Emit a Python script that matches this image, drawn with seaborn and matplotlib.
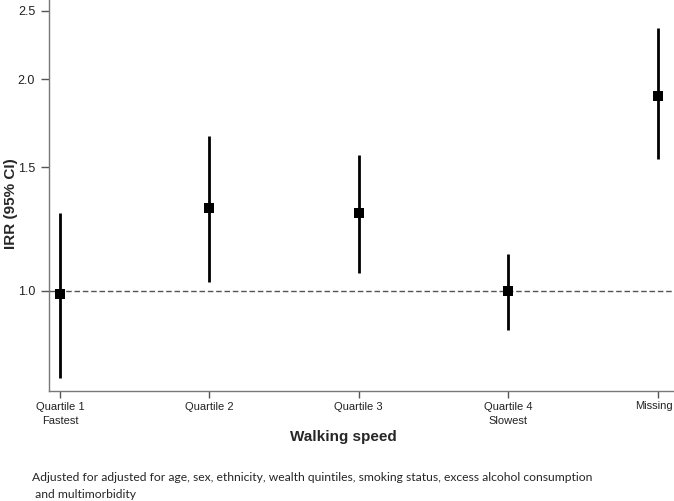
import numpy as np
import matplotlib
matplotlib.use("Agg")
import matplotlib.pyplot as plt
from matplotlib.ticker import FixedLocator, FixedFormatter, NullLocator
import seaborn as sns

# Datos (IRR e IC 95%)
categorias = ["Quartile 1\nFastest", "Quartile 2", "Quartile 3",
              "Quartile 4\nSlowest", "Missing"]
irr = [0.99, 1.31, 1.29, 1.00, 1.89]
ic_inf = [0.753, 1.03, 1.06, 0.88, 1.54]
ic_sup = [1.29, 1.66, 1.56, 1.13, 2.36]
yticks = [1.0, 1.5, 2.0, 2.5]
ytick_labels = ["1.0", "1.5", "2.0", "2.5"]

sns.set_style("ticks")
plt.rcParams["font.family"] = ["Liberation Sans", "DejaVu Sans"]

fig = plt.figure(figsize=(6.74, 5.01), dpi=100)
ax = fig.add_axes([49 / 674, 110 / 501, 1 - 49 / 674, 391 / 501])

x = np.arange(len(categorias))
ax.vlines(x, ic_inf, ic_sup, color="black", linewidth=2, zorder=3)
sns.scatterplot(x=x, y=irr, marker="s", s=60, color="black",
                edgecolor="black", linewidth=0, ax=ax, zorder=4)
ax.axhline(1.0, color="#555555", linestyle="--", linewidth=1, dashes=(4, 2),
           zorder=1)

ax.set_yscale("log")
ax.set_ylim(0.721, 2.59)
ax.set_xlim(-0.074, 4.11)
ax.yaxis.set_major_locator(FixedLocator(yticks))
ax.yaxis.set_major_formatter(FixedFormatter(ytick_labels))
ax.yaxis.set_minor_locator(NullLocator())
ax.set_xticks(x)
# la última etiqueta se escribe aparte, pegada al borde derecho
ax.set_xticklabels(categorias[:-1] + [""], fontsize=8, linespacing=1.5)
fig.text(673 / 674, 1 - 406 / 501, categorias[-1], fontsize=8,
         color="#222222", ha="right", va="center")

for s in ["top", "right"]:
    ax.spines[s].set_visible(False)
for s in ["left", "bottom"]:
    ax.spines[s].set_color("#777777")
    ax.spines[s].set_linewidth(1)
ax.tick_params(axis="y", colors="#555555", labelcolor="#222222",
               labelsize=9, length=6, width=1, pad=4)
ax.tick_params(axis="x", colors="#555555", labelcolor="#222222",
               length=5, width=1, pad=3)

ax.set_ylabel("")
ax.set_xlabel("")
fig.text(11 / 674, 1 - 204 / 501, "IRR (95% CI)", fontsize=11,
         fontweight="bold", rotation=90, ha="center", va="center")
fig.text(343 / 674, 1 - 437 / 501, "Walking speed", fontsize=11,
         fontweight="bold", ha="center", va="center")

fig.text(32 / 674, 1 - 486 / 501,
         "Adjusted for adjusted for age, sex, ethnicity, wealth quintiles, "
         "smoking status, excess alcohol consumption\n and multimorbidity",
         fontsize=8.7, family=["Lato", "DejaVu Sans"], ha="left",
         va="center", linespacing=1.6)

fig.savefig("out.png", dpi=100, facecolor="white")
